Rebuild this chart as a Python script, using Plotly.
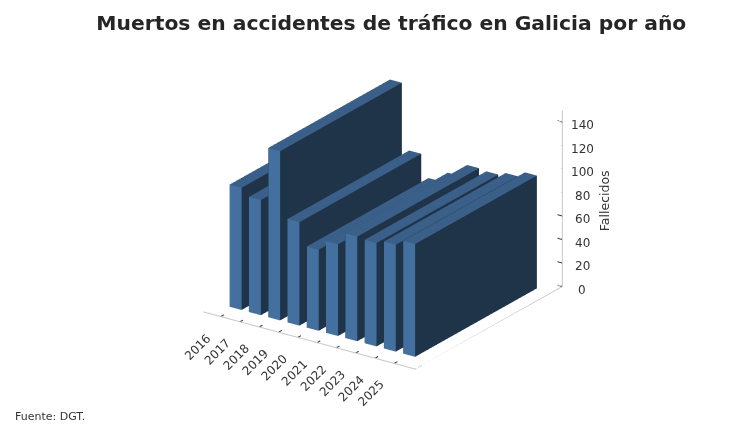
import plotly.graph_objects as go

years = ["2016", "2017", "2018", "2019", "2020", "2021", "2022", "2023", "2024", "2025"]
fallecidos = [104, 98, 144, 88, 69, 78, 89, 88, 91, 96]
z_ticks = [0, 20, 40, 60, 80, 100, 120, 140]

ANCHO = 0.62
DESPL = -0.3
Y0, Y1 = 0.7, 6.5
X_RANGO = [-0.9, 10.1]
Y_RANGO = [0, 7]
Z_TOPE = 150

# ----------------------------------------------------------------- barras
xs, ys, zs, i, j, k, cols = [], [], [], [], [], [], []
caras = [((0, 1, 2), (0, 2, 3), "#1f3349"),  # base
         ((4, 5, 6), (4, 6, 7), "#3a5f88"),  # tapa
         ((0, 1, 5), (0, 5, 4), "#44709f"),  # frente
         ((1, 2, 6), (1, 6, 5), "#203449"),  # lado
         ((2, 3, 7), (2, 7, 6), "#203449"),
         ((3, 0, 4), (3, 4, 7), "#203449")]
for n, v in enumerate(fallecidos):
    b = len(xs)
    for z in (0, v):
        xs += [n + DESPL, n + DESPL + ANCHO, n + DESPL + ANCHO, n + DESPL]
        ys += [Y0, Y0, Y1, Y1]
        zs += [z] * 4
    for t1, t2, c in caras:
        for t in (t1, t2):
            i.append(b + t[0]); j.append(b + t[1]); k.append(b + t[2]); cols.append(c)

fig = go.Figure(go.Mesh3d(x=xs, y=ys, z=zs, i=i, j=j, k=k, facecolor=cols, flatshading=True,
                          lighting=dict(ambient=1, diffuse=0, specular=0, fresnel=0),
                          hoverinfo="skip", showscale=False))

# ----------------------------------------------------------------- ejes
x0, x1 = X_RANGO
y0, y1 = Y_RANGO
fig.add_trace(go.Scatter3d(x=[x0, x1, x1, x1], y=[y0, y0, y1, y1], z=[0, 0, 0, Z_TOPE], mode="lines",
                           line=dict(color="#c8c8c8", width=2), hoverinfo="skip", showlegend=False))

tx, ty, tz = [], [], []
for n in range(len(years)):
    tx += [n, n, None]; ty += [-0.15, 0.15, None]; tz += [0, 0, None]
for v in z_ticks:
    tx += [x1 - 0.25, x1 + 0.25, None]; ty += [y1, y1, None]; tz += [v, v, None]
fig.add_trace(go.Scatter3d(x=tx, y=ty, z=tz, mode="lines", line=dict(color="#333333", width=2),
                           hoverinfo="skip", showlegend=False))

notas = []
for n, y in enumerate(years):
    notas.append(dict(x=n, y=0, z=0, text=y, showarrow=False, textangle=-45, xshift=-23, yshift=-30,
                      font=dict(size=12, color="#333333")))
for v in z_ticks:
    notas.append(dict(x=x1, y=y1, z=v, text=str(v), showarrow=False, xshift=20, yshift=-3,
                      font=dict(size=12, color="#333333")))
notas.append(dict(x=x1, y=y1, z=73, text="Fallecidos", showarrow=False, textangle=-90, xshift=42,
                  font=dict(size=12.5, color="#333333")))

oculto = dict(visible=False)
fig.update_layout(
    width=756, height=430, paper_bgcolor="white",
    font=dict(family="DejaVu Sans", size=12, color="#333333"),
    title=dict(text="<b>Muertos en accidentes de tráfico en Galicia por año</b>", x=0.507, y=0.966,
               xanchor="center", yanchor="middle", font=dict(size=20.3, color="#262626")),
    margin=dict(l=0, r=0, t=0, b=0),
    annotations=[dict(text="Fuente: DGT.", x=0.007, y=0.051, xref="paper", yref="paper",
                      xanchor="left", yanchor="middle", showarrow=False, font=dict(size=11))],
    scene=dict(
        domain=dict(x=[0, 1], y=[0, 1]),
        aspectmode="manual", aspectratio=dict(x=1.2, y=1.2, z=0.89),
        camera=dict(eye=dict(x=0.524 * 1.71 + 0.012, y=-0.756 * 1.71 + 0.008, z=0.389 * 1.71 - 0.06),
                    center=dict(x=0.012, y=0.008, z=-0.06),
                    projection=dict(type="orthographic")),
        xaxis=dict(range=X_RANGO, **oculto),
        yaxis=dict(range=Y_RANGO, **oculto),
        zaxis=dict(range=[0, Z_TOPE], **oculto),
        annotations=notas,
    ),
)
fig.write_html("out.html")
